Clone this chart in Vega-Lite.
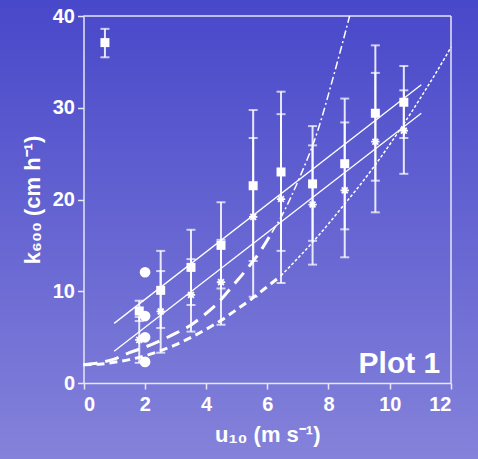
{
  "$schema": "https://vega.github.io/schema/vega-lite/v6.json",
  "width": 478,
  "height": 459,
  "padding": 0,
  "autosize": {"type": "none"},
  "background": "#6464d2",
  "view": {
    "stroke": null,
    "fill": {"gradient": "linear", "x1": 0, "y1": 0, "x2": 0, "y2": 1,
      "stops": [{"offset": 0, "color": "#4848ca"}, {"offset": 1, "color": "#8482da"}]}
  },
  "config": {
    "font": "Liberation Sans",
    "axis": {
      "grid": false,
      "domainColor": "#e6e6f4",
      "domainWidth": 1.5,
      "tickColor": "#e6e6f4",
      "tickWidth": 1.5,
      "tickSize": 6,
      "labelColor": "white",
      "labelFont": "Liberation Sans",
      "labelFontWeight": "bold",
      "labelFontSize": 20,
      "titleColor": "white",
      "titleFont": "Liberation Sans",
      "titleFontWeight": "bold",
      "titleFontSize": 22
    }
  },
  "datasets": {
    "curves": [
      {"u": 0, "k": 2.0, "series": "A_thick"},
      {"u": 0.5, "k": 2.2, "series": "A_thick"},
      {"u": 1.0, "k": 2.6, "series": "A_thick"},
      {"u": 1.5, "k": 3.3, "series": "A_thick"},
      {"u": 2.0, "k": 3.9, "series": "A_thick"},
      {"u": 2.5, "k": 4.6, "series": "A_thick"},
      {"u": 3.0, "k": 5.4, "series": "A_thick"},
      {"u": 3.5, "k": 6.3, "series": "A_thick"},
      {"u": 3.9, "k": 7.3, "series": "A_thick"},
      {"u": 4.35, "k": 8.6, "series": "A_thick"},
      {"u": 4.95, "k": 10.9, "series": "A_thick"},
      {"u": 5.33, "k": 12.4, "series": "A_thick"},
      {"u": 5.82, "k": 14.6, "series": "A_thick"},
      {"u": 6.15, "k": 16.4, "series": "A_thick"},
      {"u": 6.15, "k": 16.4, "series": "A_thin"},
      {"u": 6.42, "k": 17.9, "series": "A_thin"},
      {"u": 7.07, "k": 22.5, "series": "A_thin"},
      {"u": 7.62, "k": 27.2, "series": "A_thin"},
      {"u": 8.16, "k": 33.4, "series": "A_thin"},
      {"u": 8.69, "k": 40.0, "series": "A_thin"},
      {"u": 0, "k": 2.0, "series": "B_thick"},
      {"u": 0.5, "k": 2.05, "series": "B_thick"},
      {"u": 1.0, "k": 2.25, "series": "B_thick"},
      {"u": 1.5, "k": 2.55, "series": "B_thick"},
      {"u": 2.0, "k": 2.95, "series": "B_thick"},
      {"u": 2.5, "k": 3.5, "series": "B_thick"},
      {"u": 3.0, "k": 4.15, "series": "B_thick"},
      {"u": 3.5, "k": 4.95, "series": "B_thick"},
      {"u": 4.0, "k": 5.85, "series": "B_thick"},
      {"u": 4.5, "k": 6.85, "series": "B_thick"},
      {"u": 5.0, "k": 8.0, "series": "B_thick"},
      {"u": 5.5, "k": 9.2, "series": "B_thick"},
      {"u": 6.0, "k": 10.5, "series": "B_thick"},
      {"u": 6.45, "k": 11.7, "series": "B_thick"},
      {"u": 6.45, "k": 11.7, "series": "B_thin"},
      {"u": 7.0, "k": 13.6, "series": "B_thin"},
      {"u": 7.5, "k": 15.4, "series": "B_thin"},
      {"u": 8.0, "k": 17.35, "series": "B_thin"},
      {"u": 8.5, "k": 19.4, "series": "B_thin"},
      {"u": 9.0, "k": 21.45, "series": "B_thin"},
      {"u": 9.5, "k": 23.65, "series": "B_thin"},
      {"u": 10.0, "k": 26.0, "series": "B_thin"},
      {"u": 10.5, "k": 28.45, "series": "B_thin"},
      {"u": 11.0, "k": 31.05, "series": "B_thin"},
      {"u": 11.5, "k": 33.75, "series": "B_thin"},
      {"u": 12.0, "k": 36.6, "series": "B_thin"},
      {"u": 1.0, "k": 6.5, "series": "fit_sq"},
      {"u": 11.03, "k": 32.5, "series": "fit_sq"},
      {"u": 1.0, "k": 3.45, "series": "fit_ast"},
      {"u": 11.03, "k": 29.4, "series": "fit_ast"}
    ],
    "points": [
      {"u": 0.70, "k": 37.1, "lo": 35.5, "hi": 38.6, "series": "square"},
      {"u": 1.82, "k": 7.85, "lo": 6.75, "hi": 8.97, "series": "square"},
      {"u": 2.52, "k": 10.1, "lo": 6.0, "hi": 14.4, "series": "square"},
      {"u": 3.51, "k": 12.6, "lo": 8.5, "hi": 16.7, "series": "square"},
      {"u": 4.49, "k": 15.0, "lo": 10.3, "hi": 19.7, "series": "square"},
      {"u": 5.54, "k": 21.5, "lo": 13.3, "hi": 29.75, "series": "square"},
      {"u": 6.45, "k": 23.0, "lo": 14.4, "hi": 31.75, "series": "square"},
      {"u": 7.48, "k": 21.7, "lo": 15.5, "hi": 28.0, "series": "square"},
      {"u": 8.53, "k": 23.9, "lo": 16.75, "hi": 31.0, "series": "square"},
      {"u": 9.53, "k": 29.4, "lo": 22.05, "hi": 36.8, "series": "square"},
      {"u": 10.46, "k": 30.6, "lo": 26.7, "hi": 34.55, "series": "square"},
      {"u": 1.82, "k": 4.7, "lo": 2.2, "hi": 7.2, "series": "asterisk"},
      {"u": 2.52, "k": 7.8, "lo": 3.3, "hi": 12.2, "series": "asterisk"},
      {"u": 3.51, "k": 9.6, "lo": 5.6, "hi": 13.5, "series": "asterisk"},
      {"u": 4.49, "k": 11.0, "lo": 6.35, "hi": 15.6, "series": "asterisk"},
      {"u": 5.54, "k": 18.1, "lo": 9.4, "hi": 26.7, "series": "asterisk"},
      {"u": 6.45, "k": 20.05, "lo": 10.9, "hi": 29.3, "series": "asterisk"},
      {"u": 7.48, "k": 19.45, "lo": 12.9, "hi": 25.9, "series": "asterisk"},
      {"u": 8.53, "k": 21.0, "lo": 13.7, "hi": 28.4, "series": "asterisk"},
      {"u": 9.53, "k": 26.3, "lo": 18.6, "hi": 33.8, "series": "asterisk"},
      {"u": 10.46, "k": 27.5, "lo": 22.8, "hi": 31.9, "series": "asterisk"}
    ],
    "circles": [
      {"u": 2.01, "k": 12.07},
      {"u": 2.01, "k": 7.3},
      {"u": 2.01, "k": 4.98},
      {"u": 2.01, "k": 2.3}
    ]
  },
  "layer": [
    {
      "data": {"values": [{}]},
      "mark": {"type": "rule", "color": "#e6e6f4", "strokeWidth": 1.5},
      "encoding": {
        "x": {"datum": 0, "type": "quantitative",
          "scale": {"domain": [0, 12], "range": [83.5, 451], "nice": false, "zero": false},
          "axis": {"offset": -76, "values": [0, 2, 4, 6, 8, 10, 12], "labelPadding": 5, "titlePadding": 10},
          "title": "u₁₀ (m s⁻¹)"},
        "x2": {"datum": 12},
        "y": {"datum": 40, "type": "quantitative",
          "scale": {"domain": [0, 40], "range": [383, 16], "nice": false, "zero": false},
          "axis": {"offset": -83.5, "values": [0, 10, 20, 30, 40], "labelPadding": 3, "titlePadding": 8},
          "title": "k₆₀₀ (cm h⁻¹)"}
      }
    },
    {
      "data": {"values": [{}]},
      "mark": {"type": "rule", "color": "#e6e6f4", "strokeWidth": 1.5},
      "encoding": {
        "x": {"datum": 12, "type": "quantitative", "title": "u₁₀ (m s⁻¹)"},
        "y": {"datum": 0, "type": "quantitative", "title": "k₆₀₀ (cm h⁻¹)"},
        "y2": {"datum": 40}
      }
    },
    {
      "data": {"name": "curves"},
      "transform": [{"filter": "datum.series === 'fit_sq' || datum.series === 'fit_ast'"}],
      "mark": {"type": "line", "color": "white", "strokeWidth": 1.3},
      "encoding": {
        "x": {"field": "u", "type": "quantitative", "title": "u₁₀ (m s⁻¹)"},
        "y": {"field": "k", "type": "quantitative", "title": "k₆₀₀ (cm h⁻¹)"},
        "detail": {"field": "series"}
      }
    },
    {
      "data": {"name": "curves"},
      "transform": [{"filter": "datum.series === 'A_thick'"}],
      "mark": {"type": "line", "color": "white", "strokeWidth": 3, "strokeDash": [14, 8], "interpolate": "monotone"},
      "encoding": {
        "x": {"field": "u", "type": "quantitative", "title": "u₁₀ (m s⁻¹)"},
        "y": {"field": "k", "type": "quantitative", "title": "k₆₀₀ (cm h⁻¹)"}
      }
    },
    {
      "data": {"name": "curves"},
      "transform": [{"filter": "datum.series === 'A_thin'"}],
      "mark": {"type": "line", "color": "white", "strokeWidth": 1.5, "strokeDash": [8, 3, 2, 3], "interpolate": "monotone"},
      "encoding": {
        "x": {"field": "u", "type": "quantitative", "title": "u₁₀ (m s⁻¹)"},
        "y": {"field": "k", "type": "quantitative", "title": "k₆₀₀ (cm h⁻¹)"}
      }
    },
    {
      "data": {"name": "curves"},
      "transform": [{"filter": "datum.series === 'B_thick'"}],
      "mark": {"type": "line", "color": "white", "strokeWidth": 3, "strokeDash": [8, 5], "interpolate": "monotone"},
      "encoding": {
        "x": {"field": "u", "type": "quantitative", "title": "u₁₀ (m s⁻¹)"},
        "y": {"field": "k", "type": "quantitative", "title": "k₆₀₀ (cm h⁻¹)"}
      }
    },
    {
      "data": {"name": "curves"},
      "transform": [{"filter": "datum.series === 'B_thin'"}],
      "mark": {"type": "line", "color": "white", "strokeWidth": 1.5, "strokeDash": [3, 2], "interpolate": "monotone"},
      "encoding": {
        "x": {"field": "u", "type": "quantitative", "title": "u₁₀ (m s⁻¹)"},
        "y": {"field": "k", "type": "quantitative", "title": "k₆₀₀ (cm h⁻¹)"}
      }
    },
    {
      "data": {"name": "points"},
      "mark": {"type": "rule", "color": "white", "strokeWidth": 2, "opacity": 0.85},
      "encoding": {
        "x": {"field": "u", "type": "quantitative", "title": "u₁₀ (m s⁻¹)"},
        "y": {"field": "lo", "type": "quantitative", "title": "k₆₀₀ (cm h⁻¹)"},
        "y2": {"field": "hi"}
      }
    },
    {
      "data": {"name": "points"},
      "mark": {"type": "tick", "orient": "horizontal", "color": "white", "size": 9, "thickness": 2},
      "encoding": {
        "x": {"field": "u", "type": "quantitative", "title": "u₁₀ (m s⁻¹)"},
        "y": {"field": "lo", "type": "quantitative", "title": "k₆₀₀ (cm h⁻¹)"}
      }
    },
    {
      "data": {"name": "points"},
      "mark": {"type": "tick", "orient": "horizontal", "color": "white", "size": 9, "thickness": 2},
      "encoding": {
        "x": {"field": "u", "type": "quantitative", "title": "u₁₀ (m s⁻¹)"},
        "y": {"field": "hi", "type": "quantitative", "title": "k₆₀₀ (cm h⁻¹)"}
      }
    },
    {
      "data": {"name": "points"},
      "transform": [{"filter": "datum.series === 'square'"}],
      "mark": {"type": "point", "shape": "square", "filled": true, "color": "white", "opacity": 1, "size": 81},
      "encoding": {
        "x": {"field": "u", "type": "quantitative", "title": "u₁₀ (m s⁻¹)"},
        "y": {"field": "k", "type": "quantitative", "title": "k₆₀₀ (cm h⁻¹)"}
      }
    },
    {
      "data": {"name": "points"},
      "transform": [{"filter": "datum.series === 'asterisk'"}],
      "mark": {"type": "point", "shape": "M-1,0H1M0,-1V1M-0.7,-0.7L0.7,0.7M-0.7,0.7L0.7,-0.7", "filled": false, "color": "white", "opacity": 1, "strokeWidth": 1.8, "size": 70},
      "encoding": {
        "x": {"field": "u", "type": "quantitative", "title": "u₁₀ (m s⁻¹)"},
        "y": {"field": "k", "type": "quantitative", "title": "k₆₀₀ (cm h⁻¹)"}
      }
    },
    {
      "data": {"name": "circles"},
      "mark": {"type": "point", "shape": "circle", "filled": true, "color": "white", "opacity": 1, "size": 115},
      "encoding": {
        "x": {"field": "u", "type": "quantitative", "title": "u₁₀ (m s⁻¹)"},
        "y": {"field": "k", "type": "quantitative", "title": "k₆₀₀ (cm h⁻¹)"}
      }
    },
    {
      "data": {"values": [{"label": "Plot 1"}]},
      "mark": {"type": "text", "align": "right", "baseline": "alphabetic", "color": "white", "font": "Liberation Sans", "fontWeight": "bold", "fontSize": 30},
      "encoding": {
        "x": {"datum": 11.65, "type": "quantitative", "title": "u₁₀ (m s⁻¹)"},
        "y": {"datum": 1.1, "type": "quantitative", "title": "k₆₀₀ (cm h⁻¹)"},
        "text": {"field": "label"}
      }
    }
  ]
}
